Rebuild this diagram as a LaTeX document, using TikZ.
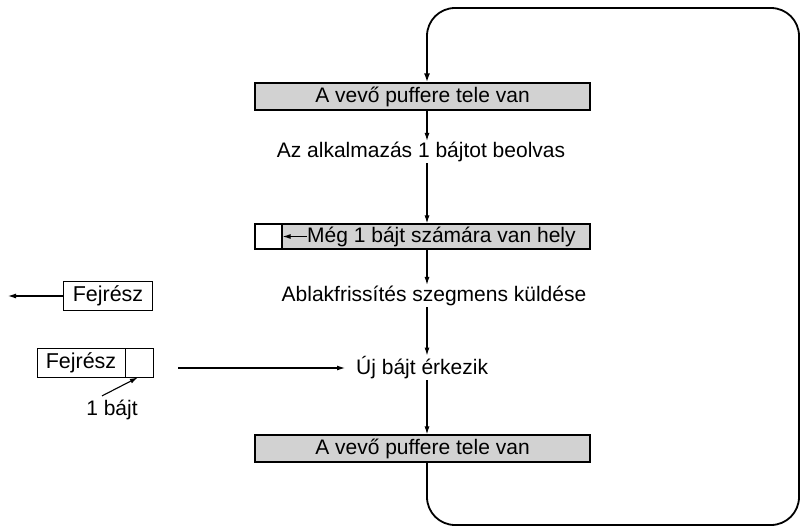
\documentclass[tikz,border=0pt]{standalone}
\usepackage{fontspec}
\setmainfont{Liberation Sans}
\usetikzlibrary{arrows.meta}
\begin{document}
\begin{tikzpicture}[x=1pt,y=-1pt,
  flow/.style={-{Latex[length=8pt,width=5pt]}, line width=1.1pt},
  loopline/.style={line width=1.8pt, rounded corners=28pt},
  buf/.style={draw, line width=1.2pt, fill=gray!35, minimum width=335pt,
    inner sep=0pt, font=\fontsize{21}{25}\selectfont},
  lbl/.style={font=\fontsize{21}{25}\selectfont, inner sep=1pt},
  hdr/.style={draw, line width=0.9pt, minimum height=29pt, inner sep=0pt,
    font=\fontsize{21.5}{25}\selectfont}]
\useasboundingbox (0,0) rectangle (801,527);

% vertical axis of the flow and corners of the return loop
\coordinate (axis) at (427,0);
\coordinate (lt) at (427,8);
\coordinate (rt) at (799,8);
\coordinate (rb) at (799,525);
\coordinate (lb) at (427,525);

% receiver buffer states and events
\node[buf, minimum height=27pt] (b1) at (422.5,96.5) {A vevő puffere tele van};
\node[lbl] (t1) at (421,152) {Az alkalmazás 1 bájtot beolvas};
\node[buf, minimum height=25pt] (b2) at (422.5,236.5) {};
\node[draw, line width=1.2pt, fill=white, minimum width=27pt, minimum height=25pt,
  inner sep=0pt, anchor=west] (cell) at (b2.west) {};
\node[font=\fontsize{21}{25}\selectfont, inner sep=0pt, anchor=west] (t2) at (307,236.5)
  {Még 1 bájt számára van hely};
\node[lbl] (t3) at (434,296) {Ablakfrissítés szegmens küldése};
\node[lbl, anchor=west] (t4) at (355,368) {Új bájt érkezik};
\node[buf, minimum height=27pt] (b3) at (422.5,448.5) {A vevő puffere tele van};

% segments on the left
\node[hdr, minimum width=89pt] (f1) at (108,296) {Fejrész};
\coordinate (f1end) at (8,296);
\node[hdr, minimum width=88pt] (f2) at (81,362.5) {Fejrész};
\node[hdr, minimum width=28pt, anchor=west] (f2cell) at (f2.east) {};
\coordinate (segstart) at (178,368);
\node[lbl] (one) at (112,410) {1 bájt};

% flow arrows
\draw[flow] (b1.south -| axis) -- (t1.north -| axis);
\draw[flow] (t1.south -| axis) -- (b2.north -| axis);
\draw[flow] (b2.south -| axis) -- (t3.north -| axis);
\draw[flow] (t3.south -| axis) -- (t4.north -| axis);
\draw[flow] (t4.south -| axis) -- (b3.north -| axis);
\draw[flow] (t2.west) -- (cell.east);
\draw[flow] (f1.west) -- (f1end);
\draw[flow] (segstart) -- ([xshift=-10pt]t4.west |- segstart);
\draw[flow] (one.north) ++(-10,-3) -- ([xshift=-2pt]f2cell.south);

% return loop from the last buffer state back to the first
\draw[loopline, -{Latex[length=9pt,width=6pt]}]
  (b3.south -| axis) -- (lb) -- (rb) -- (rt) -- (lt) -- (b1.north -| axis);
\end{tikzpicture}
\end{document}
